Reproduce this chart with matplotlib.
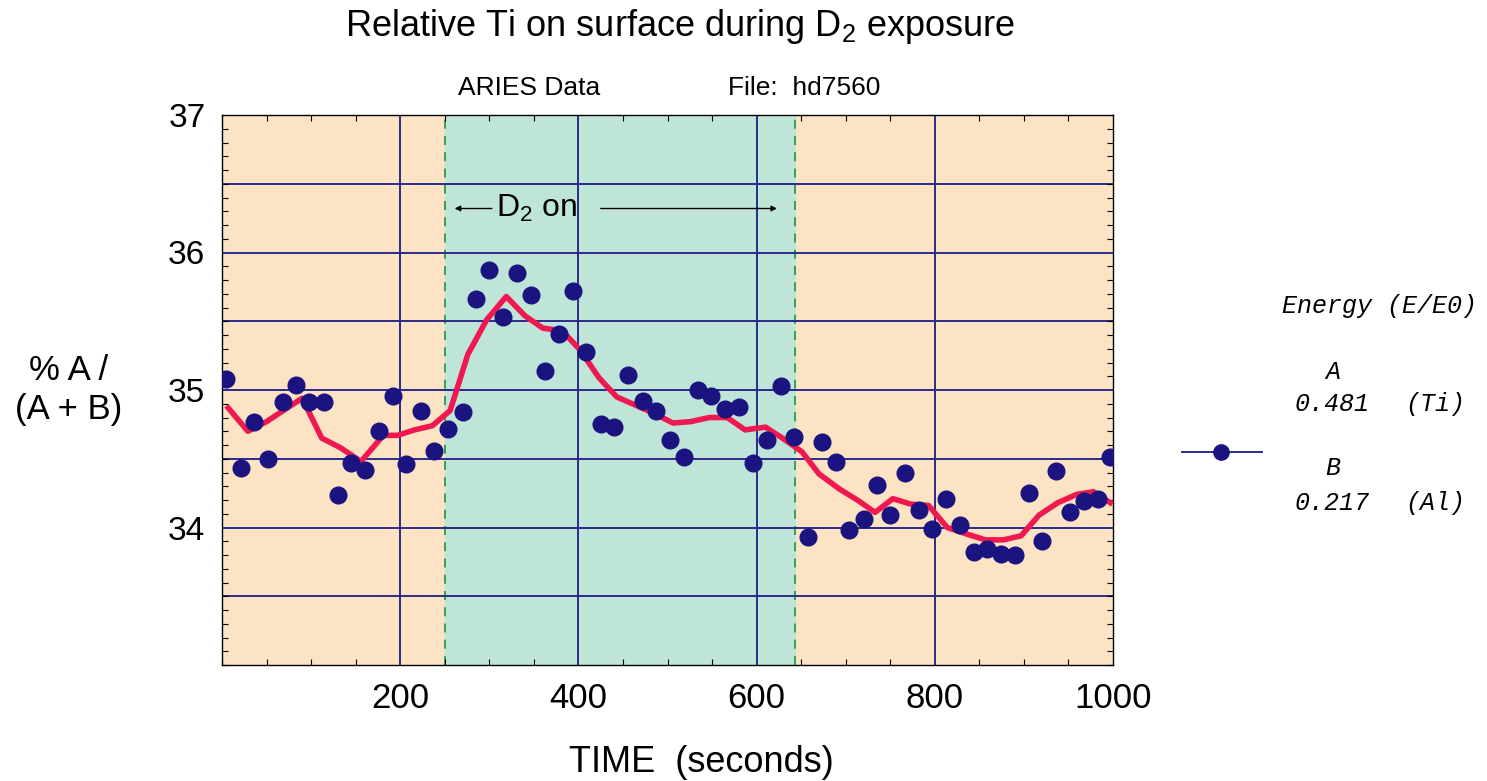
"""Relative Ti on surface during D2 exposure (ARIES data, file hd7560)."""

import matplotlib
matplotlib.use("Agg")
import matplotlib.pyplot as plt
from matplotlib.ticker import MultipleLocator

plt.rcParams["font.family"] = ["Liberation Sans", "DejaVu Sans"]
plt.rcParams["mathtext.fontset"] = "custom"
plt.rcParams["mathtext.rm"] = "Liberation Sans"

# measured points: time (s) and % A/(A+B)
t_pts = [5, 21, 36, 52, 68, 83, 98, 114, 130, 145, 160, 176, 192, 207, 223, 238,
         254, 270, 285, 300, 315, 331, 347, 362, 378, 394, 408, 425, 440, 456, 472,
         487, 503, 518, 534, 549, 564, 580, 596, 612, 627, 642, 658, 673, 689, 704,
         720, 735, 750, 766, 782, 797, 813, 828, 844, 859, 874, 890, 906, 920, 936,
         952, 967, 983, 997]
y_pts = [35.08, 34.43, 34.77, 34.50, 34.91, 35.04, 34.91, 34.91, 34.24, 34.47, 34.42,
         34.70, 34.96, 34.46, 34.85, 34.56, 34.72, 34.84, 35.66, 35.87, 35.53, 35.85,
         35.69, 35.14, 35.41, 35.72, 35.28, 34.75, 34.73, 35.11, 34.92, 34.85, 34.64,
         34.51, 35.00, 34.96, 34.86, 34.88, 34.47, 34.64, 35.03, 34.66, 33.93, 34.62,
         34.48, 33.98, 34.06, 34.31, 34.09, 34.40, 34.13, 33.99, 34.21, 34.02, 33.82,
         33.84, 33.81, 33.80, 34.25, 33.90, 34.41, 34.11, 34.19, 34.21, 34.51]

# smoothed trend (red curve)
t_fit = [7, 29, 50, 71, 90, 112, 133, 156, 181, 197, 216, 236, 256, 276, 297, 319,
         340, 360, 382, 402, 423, 443, 464, 485, 506, 526, 547, 567, 587, 610, 629,
         651, 670, 693, 713, 733, 753, 773, 793, 814, 837, 857, 877, 897, 917, 938,
         959, 978, 997]
y_fit = [34.87, 34.70, 34.77, 34.86, 34.94, 34.65, 34.58, 34.48, 34.67, 34.67, 34.71,
         34.74, 34.85, 35.26, 35.51, 35.68, 35.54, 35.45, 35.43, 35.29, 35.09, 34.95,
         34.89, 34.83, 34.76, 34.77, 34.80, 34.80, 34.71, 34.73, 34.65, 34.55, 34.39,
         34.28, 34.20, 34.11, 34.21, 34.17, 34.16, 34.00, 33.95, 33.91, 33.91, 33.94,
         34.09, 34.18, 34.24, 34.26, 34.18]

d2_on, d2_off = 250, 643

PEACH = "#fce3c3"
GREEN = "#bfe5d9"
NAVY = "#2c2a8c"
DOT = "#1b137f"
RED = "#f01850"

fig = plt.figure(figsize=(14.87, 7.81), dpi=100)
ax = fig.add_axes([222 / 1487, 1 - 665 / 781, (1113 - 222) / 1487, (665 - 115) / 781])
ax.set_facecolor(PEACH)
ax.axvspan(d2_on, d2_off, color=GREEN, zorder=0)
for xv in (d2_on, d2_off):
    ax.axvline(xv, color="#2e9a48", ls=(0, (5, 4)), lw=1.3, zorder=1)

for yv in [33.5, 34, 34.5, 35, 35.5, 36, 36.5]:
    ax.axhline(yv, color=NAVY, lw=1.4, zorder=1)
for xv in [200, 400, 600, 800]:
    ax.axvline(xv, color=NAVY, lw=1.4, zorder=1)

ax.plot(t_fit, y_fit, color=RED, lw=4, zorder=3)
ax.plot(t_pts, y_pts, "o", color=DOT, ms=12, zorder=4)

ax.set_xlim(0, 1000)
ax.set_ylim(33, 37)
ax.set_xticks([200, 400, 600, 800, 1000])
ax.set_yticks([34, 35, 36, 37])
ax.xaxis.set_minor_locator(MultipleLocator(50))
ax.yaxis.set_minor_locator(MultipleLocator(0.1))
ax.tick_params(which="both", direction="in", top=True, right=True)
ax.tick_params(which="major", length=0)
ax.tick_params(axis="x", which="major", labelsize=25, pad=12)
ax.tick_params(axis="y", which="major", labelsize=24, pad=12)
ax.tick_params(which="minor", length=4, width=0.8)
for s in ax.spines.values():
    s.set_linewidth(1.0)

# D2 on annotation
ax.annotate("", xy=(258, 36.32), xytext=(306, 36.32),
            arrowprops=dict(arrowstyle="-|>", color="black", lw=1.0, mutation_scale=8))
ax.text(308, 36.32, "D$_2$ on", fontsize=23, va="center", ha="left")
ax.annotate("", xy=(626, 36.32), xytext=(422, 36.32),
            arrowprops=dict(arrowstyle="-|>", color="black", lw=1.0, mutation_scale=8))

fig.text(680 / 1487, 1 - 26 / 781, "Relative Ti on surface during D$_2$ exposure",
         fontsize=26, ha="center", va="center")
fig.text(458 / 1487, 1 - 88 / 781, "ARIES Data", fontsize=19, ha="left", va="center")
fig.text(728 / 1487, 1 - 88 / 781, "File:  hd7560", fontsize=19, ha="left", va="center")
fig.text(69 / 1487, 1 - 390 / 781, "% A /\n(A + B)", fontsize=25, ha="center",
         va="center", linespacing=1.25)
fig.text(701 / 1487, 1 - 762 / 781, "TIME  (seconds)", fontsize=26, ha="center",
         va="center")

# legend block
mono = dict(family="Liberation Mono", style="italic", fontsize=18, va="center")
fig.text(1282 / 1487, 1 - 306 / 781, "Energy (E/E0)", ha="left", **mono)
fig.text(1333 / 1487, 1 - 372 / 781, "A", ha="center", **mono)
fig.text(1295 / 1487, 1 - 404 / 781, "0.481", ha="left", **mono)
fig.text(1405 / 1487, 1 - 404 / 781, "(Ti)", ha="left", **mono)
fig.text(1333 / 1487, 1 - 468 / 781, "B", ha="center", **mono)
fig.text(1295 / 1487, 1 - 503 / 781, "0.217", ha="left", **mono)
fig.text(1405 / 1487, 1 - 503 / 781, "(Al)", ha="left", **mono)
fig.lines.append(plt.Line2D([1182 / 1487, 1262 / 1487], [1 - 452 / 781] * 2,
                            transform=fig.transFigure, color=NAVY, lw=1.4))
fig.lines.append(plt.Line2D([1221 / 1487], [1 - 452 / 781], transform=fig.transFigure,
                            marker="o", color=DOT, ms=11, ls=""))

fig.savefig("out.png", dpi=100)
